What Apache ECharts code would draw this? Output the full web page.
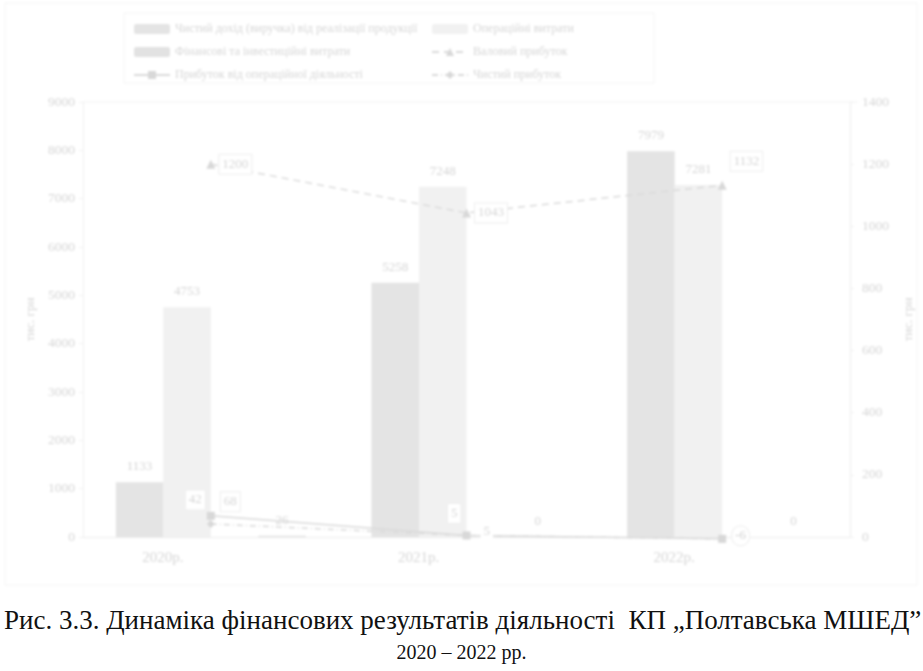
<!DOCTYPE html>
<html>
<head>
<meta charset="utf-8">
<script src="https://cdn.jsdelivr.net/npm/echarts@6/dist/echarts.min.js"></script>
<style>
  html, body { margin: 0; padding: 0; background: #fff; }
  #wrap { position: relative; width: 923px; height: 671px; overflow: hidden; }
  #chart { position: absolute; left: 0; top: 0; width: 923px; height: 590px; filter: blur(0.9px); }
  .cap { position: absolute; left: 0; width: 923px; font-family: "Liberation Serif", "Times New Roman", serif;
         color: #111; white-space: nowrap; line-height: 1; }
  #cap1 { top: 607px; left: 4px; font-size: 27px; }
  #cap2 { top: 642px; text-align: center; font-size: 20px; }
</style>
</head>
<body>
<div id="wrap">
  <div id="chart"></div>
  <div class="cap" id="cap1">Рис. 3.3. Динаміка фінансових результатів діяльності&nbsp; КП „Полтавська МШЕД”</div>
  <div class="cap" id="cap2">2020 – 2022 рр.</div>
</div>
<script>
// Categories and series values (тис. грн)
const years = ['2020р.', '2021р.', '2022р.'];
const revenue = [1133, 5258, 7979];          // Чистий дохід (виручка) від реалізації продукції
const operatingCosts = [4753, 7248, 7281];   // Операційні витрати
const finInvestCosts = [26, 0, 0];           // Фінансові та інвестиційні витрати
const grossProfit = [1200, 1043, 1132];      // Валовий прибуток
const operatingProfit = [68, 5, -6];         // Прибуток від операційної діяльності
const netProfit = [42, 5, -6];               // Чистий прибуток

const leftTicks = { min: 0, max: 9000, interval: 1000 };
const rightTicks = { min: 0, max: 1400, interval: 200 };

const names = {
  revenue: 'Чистий дохід (виручка) від реалізації продукції',
  opCosts: 'Операційні витрати',
  finCosts: 'Фінансові та інвестиційні витрати',
  gross: 'Валовий прибуток',
  opProfit: 'Прибуток від операційної діяльності',
  net: 'Чистий прибуток'
};

const FONT = '"Liberation Serif", "Times New Roman", serif';
const TXT = '#d6d6d6';
const LINE = '#dadada';

const plain = v => String(v);

const boxLabel = {
  show: true,
  color: TXT,
  fontFamily: FONT,
  fontSize: 13,
  backgroundColor: '#ffffff',
  borderColor: '#eeeeee',
  borderWidth: 1,
  padding: [3, 3]
};

const barLabel = {
  show: true,
  position: 'top',
  distance: 8,
  color: TXT,
  fontFamily: FONT,
  fontSize: 13,
  backgroundColor: '#ffffff',
  padding: [1, 2]
};

const chart = echarts.init(document.getElementById('chart'), null, { renderer: 'canvas' });

chart.setOption({
  animation: false,
  backgroundColor: '#ffffff',
  grid: { left: 83, right: 65, top: 102, bottom: 53, containLabel: false },
  legend: [
    {
      orient: 'vertical', left: 128, top: 18, itemGap: 11,
      itemWidth: 36, itemHeight: 10,
      textStyle: { color: TXT, fontFamily: FONT, fontSize: 12 },
      data: [names.revenue, names.finCosts, names.opProfit]
    },
    {
      orient: 'vertical', left: 426, top: 18, itemGap: 11,
      itemWidth: 36, itemHeight: 10,
      textStyle: { color: TXT, fontFamily: FONT, fontSize: 12 },
      data: [names.opCosts, names.gross, names.net]
    }
  ],
  graphic: [
    { type: 'rect', shape: { x: 124, y: 13, width: 530, height: 70 }, style: { fill: 'none', stroke: '#f4f4f4', lineWidth: 1 } },
    { type: 'rect', shape: { x: 5, y: 3, width: 912, height: 582 }, style: { fill: 'none', stroke: '#f4f4f4', lineWidth: 1 } },
    { type: 'line', shape: { x1: 83, y1: 102, x2: 858, y2: 102 }, style: { stroke: '#f3f3f3', lineWidth: 1 } }
  ],
  xAxis: {
    type: 'category',
    data: years,
    axisLine: { show: true, lineStyle: { color: '#ececec', width: 1 } },
    axisTick: { show: false },
    splitLine: { show: false },
    axisLabel: { color: TXT, fontFamily: FONT, fontSize: 15, margin: 14, padding: [0, 96, 0, 0] }
  },
  yAxis: [
    {
      type: 'value', min: leftTicks.min, max: leftTicks.max, interval: leftTicks.interval,
      name: 'тис. грн', nameLocation: 'middle', nameGap: 46, nameRotate: 90,
      nameTextStyle: { color: TXT, fontFamily: FONT, fontSize: 13 },
      axisLine: { show: true, lineStyle: { color: '#f1f1f1' } },
      axisTick: { show: true, length: 4, lineStyle: { color: '#f1f1f1' } },
      splitLine: { show: false },
      axisLabel: { color: TXT, fontFamily: FONT, fontSize: 13.5, margin: 8, formatter: plain }
    },
    {
      type: 'value', min: rightTicks.min, max: rightTicks.max, interval: rightTicks.interval,
      name: 'тис. грн', nameLocation: 'middle', nameGap: 52, nameRotate: 90,
      nameTextStyle: { color: TXT, fontFamily: FONT, fontSize: 13 },
      axisLine: { show: true, lineStyle: { color: '#ececec' } },
      axisTick: { show: true, length: 4, lineStyle: { color: '#f1f1f1' } },
      splitLine: { show: false },
      axisLabel: { color: TXT, fontFamily: FONT, fontSize: 13.5, margin: 12, formatter: plain }
    }
  ],
  series: [
    {
      name: names.revenue, type: 'bar', yAxisIndex: 0, barWidth: 47.5, barGap: '0%',
      itemStyle: { color: '#e4e4e4' }, label: barLabel, data: revenue
    },
    {
      name: names.opCosts, type: 'bar', yAxisIndex: 0, barWidth: 47.5, barGap: '0%',
      itemStyle: { color: '#f1f1f1' }, label: barLabel, data: operatingCosts
    },
    {
      // empty slot kept between the cost groups
      name: 'spacer', type: 'bar', yAxisIndex: 0, barWidth: 47.5, barGap: '0%',
      itemStyle: { color: 'transparent' }, data: [null, null, null]
    },
    {
      name: names.finCosts, type: 'bar', yAxisIndex: 0, barWidth: 47.5, barGap: '0%',
      itemStyle: { color: '#e2e2e2' }, label: barLabel, data: finInvestCosts
    },
    {
      name: names.gross, type: 'line', yAxisIndex: 1, symbol: 'triangle', symbolSize: 9, clip: false,
      lineStyle: { color: LINE, width: 1.5, type: [7, 5] },
      itemStyle: { color: '#d8d8d8' },
      label: Object.assign({}, boxLabel, { position: 'right', distance: 4 }),
      data: grossProfit.map((v, i) => ({
        value: v,
        label: i === 2 ? { offset: [0, -24] } : {}
      }))
    },
    {
      name: names.opProfit, type: 'line', yAxisIndex: 1, symbol: 'rect', symbolSize: 8, clip: false,
      lineStyle: { color: LINE, width: 1.5, type: 'solid' },
      itemStyle: { color: '#d8d8d8' },
      label: Object.assign({}, boxLabel, { position: 'right', distance: 6, offset: [0, -14] }),
      data: operatingProfit.map((v, i) => ({
        value: v,
        label: i === 2 ? { show: false } : (i === 1 ? { offset: [4, -4], borderColor: 'transparent' } : {})
      }))
    },
    {
      name: names.net, type: 'line', yAxisIndex: 1, symbol: 'diamond', symbolSize: 8, clip: false,
      lineStyle: { color: LINE, width: 1.5, type: [6, 3, 1, 3] },
      itemStyle: { color: '#d8d8d8' },
      label: Object.assign({}, boxLabel, { position: 'left', distance: 2, offset: [0, -24] }),
      data: netProfit.map((v, i) => ({
        value: v,
        label: i === 1 ? { offset: [0, -22] }
          : (i === 2 ? { position: 'right', distance: 6, offset: [0, -3], borderRadius: 10, color: '#cfcfcf' } : {})
      }))
    }
  ]
});
</script>
</body>
</html>
